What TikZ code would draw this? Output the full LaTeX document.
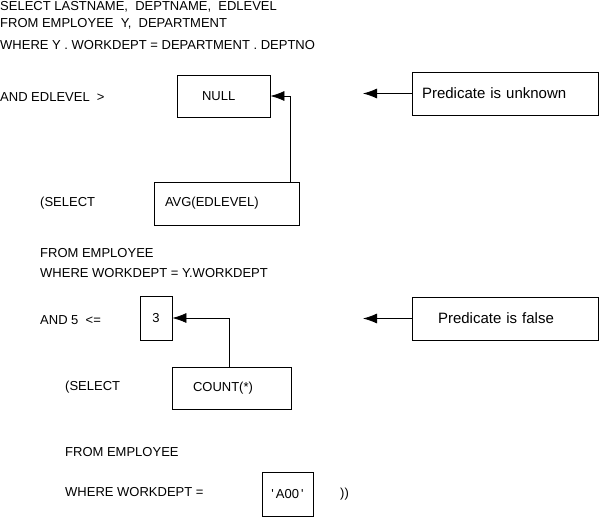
\documentclass[tikz,border=0pt]{standalone}
\usepackage{fontspec}
\setmainfont{Liberation Sans}
\usetikzlibrary{arrows.meta, positioning, calc}
\tikzset{
  sqltext/.style = {anchor=west, inner sep=0pt, font=\fontsize{13}{15}\selectfont},
  valbox/.style  = {draw, line width=0.8pt, inner sep=0pt, font=\fontsize{13}{15}\selectfont},
  notebox/.style = {draw, line width=0.8pt, inner sep=0pt, minimum width=186pt,
                    minimum height=43pt, align=left, font=\fontsize{15}{17}\selectfont},
  flow/.style    = {-{Latex[length=14pt, width=10pt]}, line width=0.8pt}
}

\begin{document}
\begin{tikzpicture}[x=1pt, y=-1pt]
\useasboundingbox (0,0) rectangle (599,517);
% query text
\foreach \nm/\cx/\cy/\txt in {%
  selq/0/7/{SELECT LASTNAME,\ \ DEPTNAME,\ \ EDLEVEL},
  fromq/0/24/{FROM EMPLOYEE\ \ Y,\ \ DEPARTMENT},
  whereq/0/45/{WHERE Y . WORKDEPT = DEPARTMENT . DEPTNO},
  andlvl/0/97/{AND EDLEVEL\ \ >},
  selavg/40/203/{(SELECT},
  fromavg/40/253/{FROM EMPLOYEE},
  whereavg/40/273/{WHERE WORKDEPT = Y.WORKDEPT},
  andcnt/40/320/{AND 5\ \ <=},
  selcnt/65/387/{(SELECT},
  fromcnt/65/452/{FROM EMPLOYEE},
  wherecnt/65/492/{WHERE WORKDEPT =},
  closeq/340/494/{))}} {
  \node[sqltext] (\nm) at (\cx,\cy) {\txt};
}
% values
\node[valbox, minimum width=93pt, minimum height=42pt, text width=43pt, align=left]
  (null) at (223.5,96) {NULL};
\node[valbox, minimum width=145pt, minimum height=43pt, text width=123pt, align=left]
  (avg) at (226.5,203.5) {AVG(EDLEVEL)};
\node[valbox, minimum width=32pt, minimum height=44pt] (three) at (156,318) {3};
\node[valbox, minimum width=119pt, minimum height=42pt, text width=77pt, align=left]
  (count) at (231.5,388) {COUNT(*)};
\node[valbox, minimum width=51pt, minimum height=44pt] (aoo) at (287.5,494)
  {\textquotesingle\,A00\,\textquotesingle};
% notes
\node[notebox, text width=166pt] (unknown) at (505,93.5) {Predicate is unknown};
\node[notebox, text width=134pt] (false) at (505,318.5) {Predicate is false};
\coordinate (unktip) at (363,93.5);
\coordinate (falsetip) at (363,318.5);
% connectors
\draw[flow] ([xshift=-9pt]avg.north east) |- (null.east);
\draw[flow] ([xshift=-2.5pt]count.north) |- (three.east);
\draw[flow] (unknown.west) -- (unktip);
\draw[flow] (false.west) -- (falsetip);
\end{tikzpicture}
\end{document}
